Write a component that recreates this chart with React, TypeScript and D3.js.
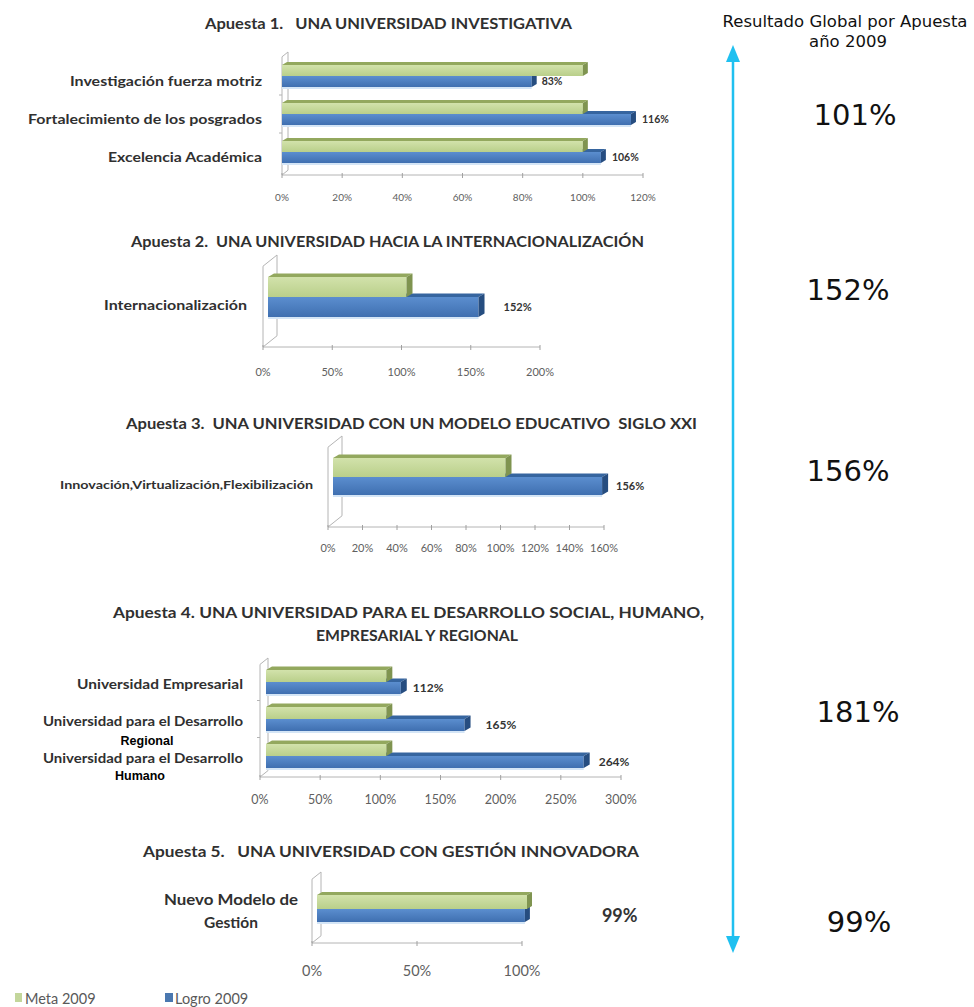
import React from "react";
import * as d3 from "d3";

// ---------- DATA ----------
const seriesNames = ["Meta 2009", "Logro 2009"];

const a1Title = ["Apuesta 1.   UNA UNIVERSIDAD INVESTIGATIVA"];
const a1Cats = ["Investigación fuerza motriz", "Fortalecimiento de los posgrados", "Excelencia Académica"];
const a1Meta = [1.0, 1.0, 1.0];
const a1Logro = [0.83, 1.16, 1.06];
const a1Ticks = [0, 0.2, 0.4, 0.6, 0.8, 1.0, 1.2];

const a2Title = ["Apuesta 2.  UNA UNIVERSIDAD HACIA LA INTERNACIONALIZACIÓN"];
const a2Cats = ["Internacionalización"];
const a2Meta = [1.0];
const a2Logro = [1.52];
const a2Ticks = [0, 0.5, 1.0, 1.5, 2.0];

const a3Title = ["Apuesta 3.  UNA UNIVERSIDAD CON UN MODELO EDUCATIVO  SIGLO XXI"];
const a3Cats = ["Innovación,Virtualización,Flexibilización"];
const a3Meta = [1.0];
const a3Logro = [1.56];
const a3Ticks = [0, 0.2, 0.4, 0.6, 0.8, 1.0, 1.2, 1.4, 1.6];

const a4Title = ["Apuesta 4. UNA UNIVERSIDAD PARA EL DESARROLLO SOCIAL, HUMANO,", "EMPRESARIAL Y REGIONAL"];
const a4Cats = ["Universidad Empresarial", "Universidad para el Desarrollo", "Universidad para el Desarrollo "];
const a4SubLabels = ["", "Regional", "Humano"];
const a4Meta = [1.0, 1.0, 1.0];
const a4Logro = [1.12, 1.65, 2.64];
const a4Ticks = [0, 0.5, 1.0, 1.5, 2.0, 2.5, 3.0];

const a5Title = ["Apuesta 5.   UNA UNIVERSIDAD CON GESTIÓN INNOVADORA"];
const a5Cats = ["Nuevo Modelo de\nGestión"];
const a5Meta = [1.0];
const a5Logro = [0.99];
const a5Ticks = [0, 0.5, 1.0];

const globalTitle = ["Resultado Global por Apuesta", "año 2009"];
const globalResults = [1.01, 1.52, 1.56, 1.81, 0.99];

// ---------- LAYOUT ----------
const W = 974, H = 1007;
const FONT = "Lato, 'Open Sans', sans-serif";
const fmt = d3.format(".0%");

const GREEN = { front: "url(#gGreen)", top: "#93a85e", side: "#7f9450" };
const BLUE = { front: "url(#gBlue)", top: "#36659f", side: "#264d80" };

type PanelDef = {
  title: string[]; titleX: number[]; titleY: number[]; titleW: number[];
  cats: string[]; meta: number[]; logro: number[]; ticks: number[]; max: number;
  x0: number; x1: number; bx: number;
  bandTop: number; bandBottom: number; gH: number; bH: number; d: number;
  base: number; tickY: number; tickSize: number; wallTop: number; wallD: number;
  catX: number; catAnchor: string; catSize: number; catDy: number; catLineH: number; catW?: number[];
  valSize: number; valGap: number[];
  sub?: string[]; subX?: number[]; subY?: number[];
};

const panels: PanelDef[] = [
  {
    title: a1Title, titleX: [388.5], titleY: [29], titleW: [367],
    cats: a1Cats, meta: a1Meta, logro: a1Logro, ticks: a1Ticks, max: 1.2,
    x0: 282, x1: 643, bx: 0, bandTop: 57, bandBottom: 171, gH: 11, bH: 11, d: 5,
    base: 175, tickY: 201, tickSize: 10, wallTop: 52, wallD: 6,
    catX: 262, catAnchor: "end", catSize: 13.5, catDy: 10, catLineH: 0, catW: [192, 234, 154],
    valSize: 10.5, valGap: [5, 6, 6],
  },
  {
    title: a2Title, titleX: [387.5], titleY: [247], titleW: [513],
    cats: a2Cats, meta: a2Meta, logro: a2Logro, ticks: a2Ticks, max: 2.0,
    x0: 263, x1: 540, bx: 5, bandTop: 277, bandBottom: 317, gH: 20, bH: 20, d: 6,
    base: 347, tickY: 376, tickSize: 11, wallTop: 255, wallD: 14,
    catX: 247, catAnchor: "end", catSize: 13.5, catDy: 13, catLineH: 0, catW: [143],
    valSize: 11, valGap: [19],
  },
  {
    title: a3Title, titleX: [411.5], titleY: [429], titleW: [571],
    cats: a3Cats, meta: a3Meta, logro: a3Logro, ticks: a3Ticks, max: 1.6,
    x0: 328, x1: 604, bx: 5, bandTop: 459, bandBottom: 495, gH: 19, bH: 18, d: 6,
    base: 527, tickY: 552, tickSize: 11, wallTop: 436, wallD: 14,
    catX: 313, catAnchor: "end", catSize: 12, catDy: 12, catLineH: 0, catW: [253],
    valSize: 11, valGap: [8],
  },
  {
    title: a4Title, titleX: [408.5, 417], titleY: [618, 641], titleW: [591, 202],
    cats: a4Cats, meta: a4Meta, logro: a4Logro, ticks: a4Ticks, max: 3.0,
    x0: 260, x1: 621, bx: 6, bandTop: 663.5, bandBottom: 774.5, gH: 12, bH: 12, d: 6,
    base: 777, tickY: 804, tickSize: 12.5, wallTop: 658, wallD: 8,
    catX: 243, catAnchor: "end", catSize: 13, catDy: 7, catLineH: 0, catW: [166, 200, 200],
    valSize: 12, valGap: [6, 15, 9],
    sub: a4SubLabels, subX: [0, 147, 140], subY: [0, 745, 780],
  },
  {
    title: a5Title, titleX: [391], titleY: [857], titleW: [496],
    cats: a5Cats, meta: a5Meta, logro: a5Logro, ticks: a5Ticks, max: 1.0,
    x0: 312, x1: 522, bx: 5, bandTop: 890, bandBottom: 928, gH: 14, bH: 13, d: 5,
    base: 943, tickY: 976, tickSize: 14.5, wallTop: 872, wallD: 9,
    catX: 231, catAnchor: "middle", catSize: 15.5, catDy: -4, catLineH: 23, catW: [134, 0],
    valSize: 18, valGap: [72],
  },
];

const globalX = [855, 848, 848, 858, 859];
const globalY = [125, 300, 481, 722, 932];

// ---------- COMPONENTS ----------
function Bar3D({ x, y, w, h, d, c }: any) {
  const dy = d * 0.6;
  return (
    <g>
      <path d={`M${x},${y}L${x + d},${y - dy}L${x + w + d},${y - dy}L${x + w},${y}Z`} fill={c.top} />
      <rect x={x} y={y} width={Math.max(0, w)} height={h} fill={c.front} />
      <path d={`M${x + w},${y}L${x + w + d},${y - dy}L${x + w + d},${y + h - dy}L${x + w},${y + h}Z`} fill={c.side} />
    </g>
  );
}

function Panel({ p }: { p: PanelDef }) {
  const x = d3.scaleLinear().domain([0, p.max]).range([p.x0, p.x1]);
  const y = d3.scaleBand<string>().domain(p.cats).range([p.bandTop, p.bandBottom]);
  const bw = y.bandwidth();
  const start = p.x0 + p.bx;
  const len = (v: number) => x(v) - x(0);
  const wd = p.wallD, wdy = wd * 0.8;
  const wall = `M${p.x0},${p.base}L${p.x0},${p.wallTop + wdy}L${p.x0 + wd},${p.wallTop}L${p.x0 + wd},${p.base - wdy}L${p.x0},${p.base}`;
  return (
    <g>
      {p.title.map((t, i) => (
        <text key={i} x={p.titleX[i]} y={p.titleY[i]} textAnchor="middle" fontFamily={FONT} fontWeight={700}
          fontSize={15} fill="#303030" textLength={p.titleW[i]} lengthAdjust="spacingAndGlyphs"
          style={{ whiteSpace: "pre" }}>{t}</text>
      ))}
      {/* wall */}
      <path d={wall} fill="none" stroke="#b4b4b4" strokeWidth={1} />
      {p.cats.map((c, i) => i > 0 ? (
        <line key={i} x1={p.x0 - 3} x2={p.x0} y1={y(c)!} y2={y(c)!} stroke="#b4b4b4" />
      ) : null)}
      {/* axis */}
      <line x1={p.x0} x2={p.x1} y1={p.base} y2={p.base} stroke="#b4b4b4" strokeWidth={1} />
      {p.ticks.map((t, i) => (
        <g key={i}>
          <line x1={x(t)} x2={x(t)} y1={p.base - 2} y2={p.base + 3} stroke="#a0a0a0" />
          <text x={x(t)} y={p.tickY} textAnchor="middle" fontFamily={FONT} fontSize={p.tickSize} fill="#606060">{fmt(t)}</text>
        </g>
      ))}
      {/* bars */}
      {p.cats.map((c, i) => {
        const cy = y(c)! + bw / 2;
        const lw = len(p.logro[i]);
        return (
          <g key={i}>
            <rect x={start} y={cy + p.bH} width={lw} height={2} fill="#d4e5f6" />
            <Bar3D x={start} y={cy} w={lw} h={p.bH} d={p.d} c={BLUE} />
            <Bar3D x={start} y={cy - p.gH} w={len(p.meta[i])} h={p.gH} d={p.d} c={GREEN} />
            <text x={start + lw + p.d + p.valGap[i]} y={cy + p.bH / 2 + p.valSize * 0.35} fontFamily={FONT}
              fontWeight={700} fontSize={p.valSize} fill="#333">{fmt(p.logro[i])}</text>
          </g>
        );
      })}
      {/* category labels */}
      {p.cats.map((c, i) => {
        const cy = y(c)! + bw / 2;
        const lines = c.trim().split("\n");
        return (
          <g key={i}>
            {lines.map((l, j) => {
              const tw = p.catW && j === 0 && p.catW[i] ? p.catW[i] : undefined;
              return (
                <text key={j} x={p.catX} y={cy + p.catDy + j * p.catLineH} textAnchor={p.catAnchor as any}
                  fontFamily={FONT} fontWeight={700} fontSize={p.catSize} fill="#303030"
                  textLength={tw} lengthAdjust={tw ? "spacingAndGlyphs" : undefined}>{l}</text>
              );
            })}
            {p.sub && p.sub[i] ? (
              <text x={p.subX![i]} y={p.subY![i]} textAnchor="middle"
                fontFamily="'Liberation Sans', Arial, sans-serif" fontWeight={700} fontSize={12.5} fill="#000">{p.sub[i]}</text>
            ) : null}
          </g>
        );
      })}
    </g>
  );
}

export default function App() {
  const arrowX = 733;
  return (
    <svg width={W} height={H} viewBox={`0 0 ${W} ${H}`} style={{ position: "absolute", left: 0, top: 0, background: "#fff" }}>
      <defs>
        <linearGradient id="gGreen" x1="0" y1="0" x2="0" y2="1">
          <stop offset="0" stopColor="#d2e2ab" />
          <stop offset="1" stopColor="#b9cf8a" />
        </linearGradient>
        <linearGradient id="gBlue" x1="0" y1="0" x2="0" y2="1">
          <stop offset="0" stopColor="#5b8ecf" />
          <stop offset="1" stopColor="#3f6fb0" />
        </linearGradient>
      </defs>
      <rect width={W} height={H} fill="#fff" />
      {panels.map((p, i) => <Panel key={i} p={p} />)}

      {/* legend */}
      <rect x={15} y={993} width={7} height={9} fill="#c3d69b" />
      <text x={25} y={1004} fontFamily={FONT} fontSize={14.5} fill="#595959">{seriesNames[0]}</text>
      <rect x={165} y={993} width={8} height={9} fill="#4a78b0" />
      <text x={175} y={1004} fontFamily={FONT} fontSize={14.5} fill="#595959">{seriesNames[1]}</text>

      {/* global arrow */}
      <line x1={arrowX} x2={arrowX} y1={60} y2={938} stroke="#1fc0f0" strokeWidth={2.5} />
      <path d={`M${arrowX},45L${arrowX + 7},62L${arrowX - 7},62Z`} fill="#1fc0f0" />
      <path d={`M${arrowX},953L${arrowX + 7},936L${arrowX - 7},936Z`} fill="#1fc0f0" />

      <text x={845} y={27} textAnchor="middle" fontFamily="'DejaVu Sans', Verdana, sans-serif" fontSize={16.5} fill="#111">{globalTitle[0]}</text>
      <text x={848} y={47} textAnchor="middle" fontFamily="'DejaVu Sans', Verdana, sans-serif" fontSize={16.5} fill="#111">{globalTitle[1]}</text>
      {globalResults.map((v, i) => (
        <text key={i} x={globalX[i]} y={globalY[i]} textAnchor="middle" fontFamily="'DejaVu Sans', Verdana, sans-serif"
          fontSize={29} fill="#111">{fmt(v)}</text>
      ))}
    </svg>
  );
}
